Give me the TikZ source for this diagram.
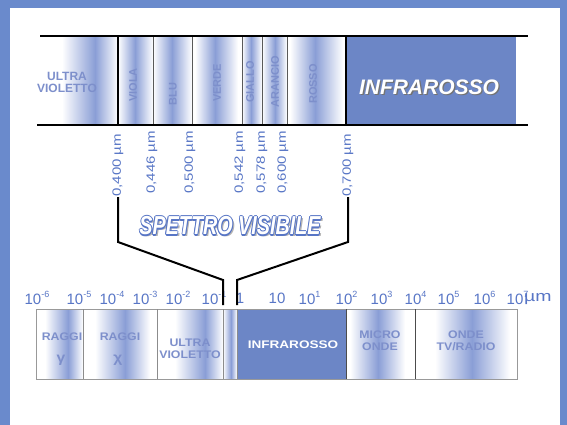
\documentclass[tikz,border=0pt]{standalone}
\usepackage{fontspec}
\setmainfont{Liberation Sans}
\definecolor{frame}{RGB}{106,138,204}
\definecolor{irblue}{RGB}{108,134,198}
\definecolor{bandc}{RGB}{138,158,214}
\definecolor{celltxt}{RGB}{125,143,203}
\definecolor{numblue}{RGB}{88,118,198}
\newcommand\gcell[5]{% y1 y2 bandstart peak bandend
  \shade[left color=white,right color=bandc] (#3,#1) rectangle (#4,#2);
  \shade[left color=bandc,right color=white] (#4,#1) rectangle (#5,#2);}
\tikzset{
  topcell/.style={font=\bfseries\fontsize{11}{11}\selectfont,text=celltxt,inner sep=0pt,rotate=90},
  botcell/.style={font=\bfseries\fontsize{11}{12}\selectfont,text=celltxt,inner sep=0pt,align=center,xscale=1.12,transform shape},
  wl/.style={font=\fontsize{12}{12}\selectfont,text=numblue,inner sep=0pt,rotate=90,anchor=west},
  num/.style={font=\fontsize{15}{15}\selectfont,text=numblue,inner sep=0pt},
  brk/.style={line width=2pt,black},
  thin/.style={line width=1pt,black!65},
  thick/.style={line width=2pt,black},
  sv/.style={font=\bfseries\itshape\fontsize{26}{26}\selectfont,inner sep=0pt,xscale=0.76,transform shape}
}
\newcommand\ex[1]{\rlap{\raisebox{7.5pt}{\fontsize{9}{9}\selectfont#1}}}
\begin{document}
\begin{tikzpicture}[x=1pt,y=-1pt]
\useasboundingbox (0,0) rectangle (567,425);
\fill[frame] (0,0) rectangle (567,425);
\fill[white] (10,8) rectangle (560,425);

% ---------- top band ----------
\gcell{37}{124}{62}{95}{118}
\gcell{37}{124}{118}{135}{153}
\gcell{37}{124}{153}{172}{192}
\gcell{37}{124}{195}{215}{238}
\gcell{37}{124}{242}{251}{262}
\gcell{37}{124}{262}{275}{287}
\gcell{37}{124}{290}{315}{343}
\fill[irblue] (346,36) rectangle (516,125);
\foreach \x in {153,192,242,262,287} \draw[thin] (\x,36) -- (\x,125);
\draw[thick] (118,36) -- (118,125);
\draw[thick] (346,36) -- (346,125);
\draw[thick] (40,36) -- (528,36);
\draw[thick] (37,125) -- (528,125);

\node[font=\bfseries\fontsize{12}{12}\selectfont,text=celltxt,align=center,inner sep=0pt] (tuv) at (67,82) {ULTRA\\VIOLETTO};
\node[topcell] (tviola) at (133,85) {VIOLA};
\node[topcell] (tblu) at (173,94) {BLU};
\node[topcell] (tverde) at (217,83) {VERDE};
\node[topcell] (tgiallo) at (250,82) {GIALLO};
\node[topcell] (tarancio) at (275,82) {ARANCIO};
\node[topcell] (trosso) at (313,84) {ROSSO};
\node[font=\bfseries\itshape\fontsize{21}{21}\selectfont,text=black!55,inner sep=0pt] (tirs) at (430.3,88.3) {INFRAROSSO};
\node[font=\bfseries\itshape\fontsize{21}{21}\selectfont,text=white,inner sep=0pt] (tir) at (429,87) {INFRAROSSO};

% ---------- wavelength labels ----------
\node[wl] (l400) at (118,197) {\scalebox{1.25}[1]{0,400 µm}};
\node[wl] (l446) at (152,194) {\scalebox{1.25}[1]{0,446 µm}};
\node[wl] (l500) at (190,194) {\scalebox{1.25}[1]{0,500 µm}};
\node[wl] (l542) at (240,194) {\scalebox{1.25}[1]{0,542 µm}};
\node[wl] (l578) at (262,194) {\scalebox{1.25}[1]{0,578 µm}};
\node[wl] (l600) at (283,194) {\scalebox{1.25}[1]{0,600 µm}};
\node[wl] (l700) at (348,197) {\scalebox{1.25}[1]{0,700 µm}};

% ---------- SPETTRO VISIBILE ----------
\node[sv,text=black!30] (svs) at (232,228) {SPETTRO VISIBILE};
\foreach \dx/\dy [count=\i] in {-1.2/0,1.2/0,0/-1.2,0/1.2,-.85/-.85,.85/.85,-.85/.85,.85/-.85}
  \node[sv,text=numblue,xshift=\dx pt,yshift=\dy pt] (svo\i) at (230,226) {SPETTRO VISIBILE};
\node[sv,text=white] (sv) at (230,226) {SPETTRO VISIBILE};

% ---------- bottom box ----------
\gcell{309}{379}{45}{68}{83}
\gcell{309}{379}{95}{125}{150}
\gcell{309}{379}{175}{205}{223}
\gcell{309}{379}{223}{231}{237}
\gcell{309}{379}{350}{378}{405}
\gcell{309}{379}{435}{472}{510}
\fill[irblue] (237,309) rectangle (346,379);
\draw[line width=0.8pt,black!40] (36,309) rectangle (517,379);
\foreach \x in {83,157,223,237} \draw[line width=0.8pt,black!45] (\x,309) -- (\x,379);
\foreach \x in {346,415} \draw[line width=1pt,black!70] (\x,309) -- (\x,379);

\node[botcell] (bg1) at (62,337) {RAGGI};
\node[botcell,font=\bfseries\fontsize{14}{14}\selectfont] (bg2) at (61,360) {γ};
\node[botcell] (bx1) at (120,337) {RAGGI};
\node[botcell,font=\bfseries\fontsize{14}{14}\selectfont] (bx2) at (118,360) {χ};
\node[botcell] (buv) at (190,349) {ULTRA\\VIOLETTO};
\node[botcell,text=white,xscale=1.1] (bir) at (293,345) {INFRAROSSO};
\node[botcell] (bmo) at (380,341) {MICRO\\ONDE};
\node[botcell] (btv) at (466,341) {ONDE\\TV/RADIO};

% ---------- scale numbers ----------
\node[num] (n1) at (33,298) {10\ex{-6}};
\node[num] (n2) at (75,298) {10\ex{-5}};
\node[num] (n3) at (108,298) {10\ex{-4}};
\node[num] (n4) at (141,298) {10\ex{-3}};
\node[num] (n5) at (174,298) {10\ex{-2}};
\node[num] (n6) at (210,298) {10\ex{-1}};
\node[num] (n7) at (240,298) {1};
\node[num] (n8) at (277,298) {10};
\node[num] (n9) at (307,298) {10\ex{1}};
\node[num] (n10) at (344,298) {10\ex{2}};
\node[num] (n11) at (379,298) {10\ex{3}};
\node[num] (n12) at (413,298) {10\ex{4}};
\node[num] (n13) at (446,298) {10\ex{5}};
\node[num] (n14) at (482,298) {10\ex{6}};
\node[num] (n15) at (515,298) {10\ex{7}};
\node[num,anchor=west] (um) at (524,299) {\scalebox{1.3}[1]{µm}};

% ---------- brackets ----------
\coordinate (bl) at (223,305);
\coordinate (br) at (237,305);
\draw[brk] (l400.west) -- (118,242) -- (223,280) -- (bl);
\draw[brk] (l700.west) -- (348,242) -- (237,280) -- (br);
\end{tikzpicture}
\end{document}
